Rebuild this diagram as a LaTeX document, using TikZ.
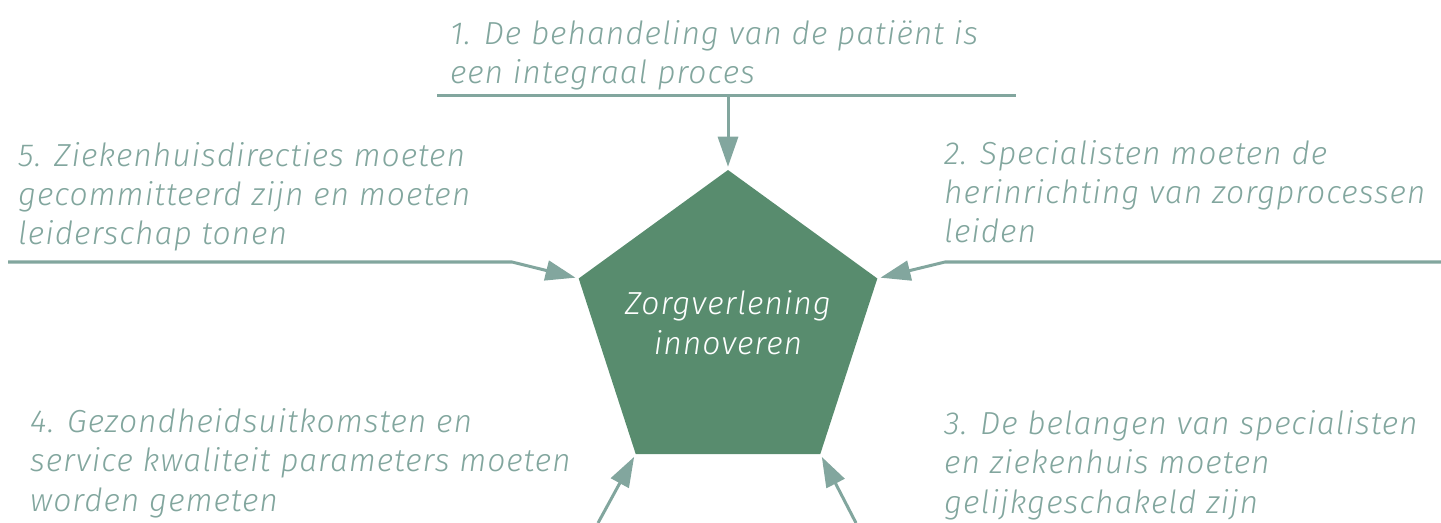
\documentclass[tikz,border=0pt]{standalone}
\usepackage{fontspec}
\newfontfamily\labelfont[LetterSpace=3]{Fira Sans Light Italic}
\usetikzlibrary{shapes.geometric,arrows.meta}
\definecolor{zorggreen}{HTML}{588C6E}
\definecolor{feedgrey}{HTML}{82A69E}

\begin{document}
\begin{tikzpicture}
		[x=1bp,y=-1bp,
		core/.style={regular polygon,regular polygon sides=5,fill=zorggreen,
inner sep=0pt,minimum size=314bp},
		coretext/.style={inner sep=0pt,text=white,align=center,
font=\labelfont\fontsize{32}{40}\selectfont},
		pillar/.style={anchor=base west,inner sep=0pt,align=left,text=feedgrey,
font=\labelfont\fontsize{32}{39.5}\selectfont},
		rule/.style={draw=feedgrey,line width=3bp},
		feed/.style={-{Triangle[length=30bp,width=20bp]},draw=feedgrey,
line width=3bp,shorten >=3bp}]
		\useasboundingbox (0,0) rectangle (1441,523);
		\node at (728,327) (zorg) [core] {};
		\node at (728,323) (zorgtext) [coretext] {Zorgverlening\\innoveren};
		% the five pillars round the core, placed by their last baseline
		\node at (450,84) (p1) [pillar] {1. De behandeling van de patiënt is\\een integraal proces};
		\node at (944,243) (p2) [pillar] {2. Specialisten moeten de\\herinrichting van zorgprocessen\\leiden};
		\node at (944,513) (p3) [pillar] {3. De belangen van specialisten\\en ziekenhuis moeten\\gelijkgeschakeld zijn};
		\node at (30,511) (p4) [pillar] {4. Gezondheidsuitkomsten en\\service kwaliteit parameters moeten\\worden gemeten};
		\node at (18,245) (p5) [pillar] {5. Ziekenhuisdirecties moeten\\gecommitteerd zijn en moeten\\leiderschap tonen};
		% rules under the pillars and the arrows into the corners
		\coordinate (r1a) at (437,96);
		\coordinate (r1b) at (1016,96);
		\coordinate (r2a) at (1441,262);
		\coordinate (r2b) at (945,262);
		\coordinate (r3a) at (856,523);
		\coordinate (r4a) at (598,523);
		\coordinate (r5a) at (8,262);
		\coordinate (r5b) at (512,262);
		\draw [rule] (r1a) -- (r1b);
		\draw [feed] (r1a -| zorg.corner 1) -- (zorg.corner 1);
		\draw [feed] (r2a) -- (r2b) -- (zorg.corner 5);
		\draw [feed] (r3a) -- (zorg.corner 4);
		\draw [feed] (r4a) -- (zorg.corner 3);
		\draw [feed] (r5a) -- (r5b) -- (zorg.corner 2);
	\end{tikzpicture}
\end{document}
